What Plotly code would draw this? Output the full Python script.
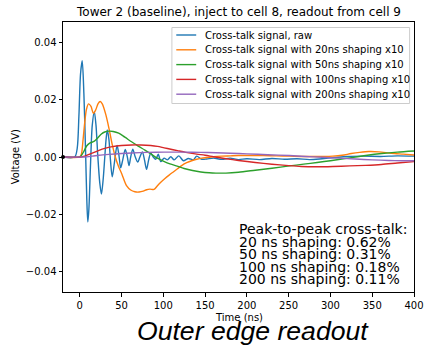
import plotly.graph_objects as go

# ---------------- data ----------------
raw_t = [-20, -6, -3, -1, 1, 3, 5, 7, 8.5, 9.7, 11, 13, 15, 17.5, 19.5, 21.5, 24, 26, 28, 30,
         31.5, 33, 35, 36.5, 38.9, 41.5, 44.7, 47, 49, 51.5, 54.5, 57, 59, 61, 63.5, 66.5, 69.5,
         72, 75, 77.5, 80, 82.5, 85, 88, 91, 94, 97, 101, 105, 109, 113, 118.6, 124, 130, 136,
         140, 146, 152, 160, 170, 180, 190, 200, 215, 230, 245, 260, 275, 290, 305, 320, 340,
         360, 380, 400]
raw_v = [0, 0, 0.003, 0.014, 0.029, 0.0335, 0.022, 0.002, -0.015, -0.0226, -0.018, -0.002,
         0.011, 0.0158, 0.011, 0.001, -0.009, -0.0129, -0.008, 0.0, 0.006, 0.0094, 0.006, 0.0,
         -0.0069, -0.002, 0.0040, 0.0005, -0.0038, -0.001, 0.0026, 0.0, -0.0030, 0.0, 0.0027,
         0.0, -0.0018, 0.0, 0.0018, -0.001, -0.0043, -0.001, 0.0014, 0.0, -0.0008, 0.0010,
         -0.0016, -0.0004, -0.0010, 0.0001, -0.001, 0.0004, -0.0013, -0.0005, -0.0010, 0.0003,
         -0.0008, -0.0007, -0.0004, -0.0008, -0.0004, -0.0009, -0.0006, -0.0009, -0.0005,
         -0.0008, -0.0006, -0.0009, -0.0006, -0.0002, 0.0002, 0.0003, 0.0002, 0.0004, 0.0003]

s20_t = [-20, 0, 2, 4, 6, 8, 10.5, 13.5, 16.3, 19, 22, 24.5, 27, 31, 35, 39, 42.8, 46, 50.5, 56,
         61, 66, 71, 76, 80, 84, 89, 93, 97, 102, 107, 112, 116.6, 122, 128, 134, 140, 146, 152,
         160, 170, 180, 190, 205, 220, 235, 251, 265, 280, 292, 303, 314, 325, 335, 346, 358,
         373, 387, 400]
s20_v = [0, 0, 0.001, 0.006, 0.012, 0.0165, 0.0185, 0.0176, 0.0152, 0.0163, 0.0186, 0.0193,
         0.0185, 0.0150, 0.0100, 0.0042, -0.0002, -0.0030, -0.0060, -0.0100, -0.0115, -0.0121,
         -0.0122, -0.0119, -0.0114, -0.0112, -0.0113, -0.0100, -0.0088, -0.0075, -0.0063,
         -0.0052, -0.0042, -0.0030, -0.0020, -0.0013, -0.0008, -0.0004, -0.0002, 0.0001, 0.0003,
         0.0004, 0.0005, 0.0005, 0.0005, 0.0004, 0.0003, 0.0002, 0.0002, 0.0002, 0.0003, 0.0006,
         0.0012, 0.0016, 0.0019, 0.0018, 0.0013, 0.0010, 0.0007]

s50_t = [-20, 0, 2, 5, 8.5, 12, 17.5, 22, 26, 30, 35, 40, 46.6, 54, 62, 70, 78, 86, 93, 100,
         108, 116.6, 125, 135, 145, 155, 163, 175, 190, 210, 230, 251, 268, 284, 300, 323, 342,
         361.5, 380, 400]
s50_v = [0, 0, 0.0005, 0.002, 0.0039, 0.0048, 0.0055, 0.0068, 0.0080, 0.0087, 0.0090, 0.0089,
         0.0083, 0.0069, 0.0053, 0.0038, 0.0024, 0.0009, -0.0004, -0.0014, -0.0024, -0.0032,
         -0.0040, -0.0047, -0.0052, -0.0055, -0.0056, -0.0056, -0.0053, -0.0046, -0.0039,
         -0.0031, -0.0025, -0.0019, -0.0013, -0.0003, 0.0005, 0.0012, 0.0017, 0.0021]

s100_t = [-20, 2, 6, 12, 18, 23, 30, 39, 50, 62, 73, 85, 93, 101, 109, 117, 127, 140, 150, 160,
          175, 190, 210, 230, 250, 265, 283, 303, 323, 342, 361, 380, 400]
s100_v = [0, 0, 0.0003, 0.0010, 0.0017, 0.0023, 0.0030, 0.0036, 0.0040, 0.0042, 0.0042, 0.0040,
          0.0037, 0.0032, 0.0027, 0.0022, 0.0016, 0.0010, 0.0006, 0.0001, -0.0006, -0.0012,
          -0.0019, -0.0025, -0.0030, -0.0033, -0.0034, -0.0033, -0.0031, -0.0029, -0.0026,
          -0.0021, -0.0016]

s200_t = [-20, 5, 15, 23, 35, 50, 62, 80, 101, 125, 145, 163, 180, 200, 225, 251, 270, 290, 310,
          330, 350, 370, 385, 400]
s200_v = [0, 0, 0.0003, 0.0006, 0.0009, 0.0012, 0.0014, 0.0016, 0.0017, 0.0017, 0.0016, 0.0015,
          0.0013, 0.0011, 0.0008, 0.0005, 0.0002, -0.0001, -0.0004, -0.0007, -0.0010, -0.0012,
          -0.0013, -0.0013]

start_t = [-20]
start_v = [0]

series_names = ["Cross-talk signal, raw",
                "Cross-talk signal with 20ns shaping x10",
                "Cross-talk signal with 50ns shaping x10",
                "Cross-talk signal with 100ns shaping x10",
                "Cross-talk signal with 200ns shaping x10"]
colors = ["#1f77b4", "#ff7f0e", "#2ca02c", "#d62728", "#9467bd"]

x_ticks = [0, 50, 100, 150, 200, 250, 300, 350, 400]
y_ticks = [-0.04, -0.02, 0.0, 0.02, 0.04]

title_text = "Tower 2 (baseline), inject to cell 8, readout from cell 9"
p2p_lines = ["Peak-to-peak cross-talk:",
             "20 ns shaping: 0.62%",
             "50 ns shaping: 0.31%",
             "100 ns shaping: 0.18%",
             "200 ns shaping: 0.11%"]
bottom_label = "Outer edge readout"

# ---------------- figure ----------------
W, H = 436, 345
L, R, T, B = 63, 12, 22, 53
pw, ph = W - L - R, H - T - B

def px_x(px):
    return (px - L) / pw

def px_y(py):
    return (H - B - py) / ph

FONT = "DejaVu Sans"
fig = go.Figure()
all_series = [(raw_t, raw_v), (s20_t, s20_v), (s50_t, s50_v), (s100_t, s100_v), (s200_t, s200_v)]
for (t, v), name, c in zip(all_series, series_names, colors):
    fig.add_trace(go.Scatter(x=t, y=v, mode="lines", name=name, showlegend=False,
                             line=dict(color=c, width=1.4, shape="spline", smoothing=0.8)))

fig.add_trace(go.Scatter(x=start_t, y=start_v, mode="markers", showlegend=False,
                         marker=dict(color="black", size=4), cliponaxis=False))

axis_common = dict(showline=True, linecolor="black", linewidth=1, mirror=True,
                   ticks="outside", ticklen=3.5, tickwidth=1, tickcolor="black",
                   showgrid=False, zeroline=False,
                   tickfont=dict(family=FONT, size=10, color="black"))

fig.update_xaxes(range=[-20, 400], tickvals=x_ticks, **axis_common)
fig.update_yaxes(range=[-0.047, 0.047], tickvals=y_ticks, tickformat=".2f", **axis_common)

annotations = [
    dict(text=title_text, x=0.5, y=px_y(12), xref="paper", yref="paper",
         xanchor="center", yanchor="middle", showarrow=False,
         font=dict(family=FONT, size=12, color="black")),
    dict(text="Time (ns)", x=0.5, y=px_y(317), xref="paper", yref="paper",
         xanchor="center", yanchor="middle", showarrow=False,
         font=dict(family=FONT, size=10, color="black")),
    dict(text="Voltage (V)", x=px_x(14), y=0.5, xref="paper", yref="paper",
         xanchor="center", yanchor="middle", textangle=-90, showarrow=False,
         font=dict(family=FONT, size=10, color="black")),
    dict(text=bottom_label, x=px_x(258), y=px_y(330.5), xref="paper", yref="paper",
         xanchor="center", yanchor="middle", showarrow=False,
         font=dict(family="Liberation Sans", size=26.6, color="black", style="italic")),
]
for i, line in enumerate(p2p_lines):
    annotations.append(dict(text=line, x=px_x(242), y=px_y(229 + 12.6 * i),
                            xref="paper", yref="paper", xanchor="left", yanchor="middle",
                            showarrow=False,
                            font=dict(family=FONT, size=14, color="black")))

# legend drawn as a box with line samples and labels (matplotlib-style compact spacing)
shapes = [dict(type="rect", xref="paper", yref="paper",
               x0=px_x(175), x1=px_x(419.5), y0=px_y(103.5), y1=px_y(27.5),
               line=dict(color="#cccccc", width=1), fillcolor="rgba(255,255,255,0.8)",
               layer="above")]
for i, (name, c) in enumerate(zip(series_names, colors)):
    yy = px_y(35 + 14.8 * i)
    shapes.append(dict(type="line", xref="paper", yref="paper",
                       x0=px_x(179.5), x1=px_x(200), y0=yy, y1=yy,
                       line=dict(color=c, width=1.4), layer="above"))
    annotations.append(dict(text=name, x=px_x(207.5), y=yy, xref="paper", yref="paper",
                            xanchor="left", yanchor="middle", showarrow=False,
                            font=dict(family=FONT, size=10, color="black")))

fig.update_layout(
    width=W, height=H, margin=dict(l=L, r=R, t=T, b=B, pad=0),
    paper_bgcolor="white", plot_bgcolor="white",
    annotations=annotations, shapes=shapes, showlegend=False,
)

fig.write_html("out.html", config={"displayModeBar": False},
               post_script="document.body.style.margin='0px';")
